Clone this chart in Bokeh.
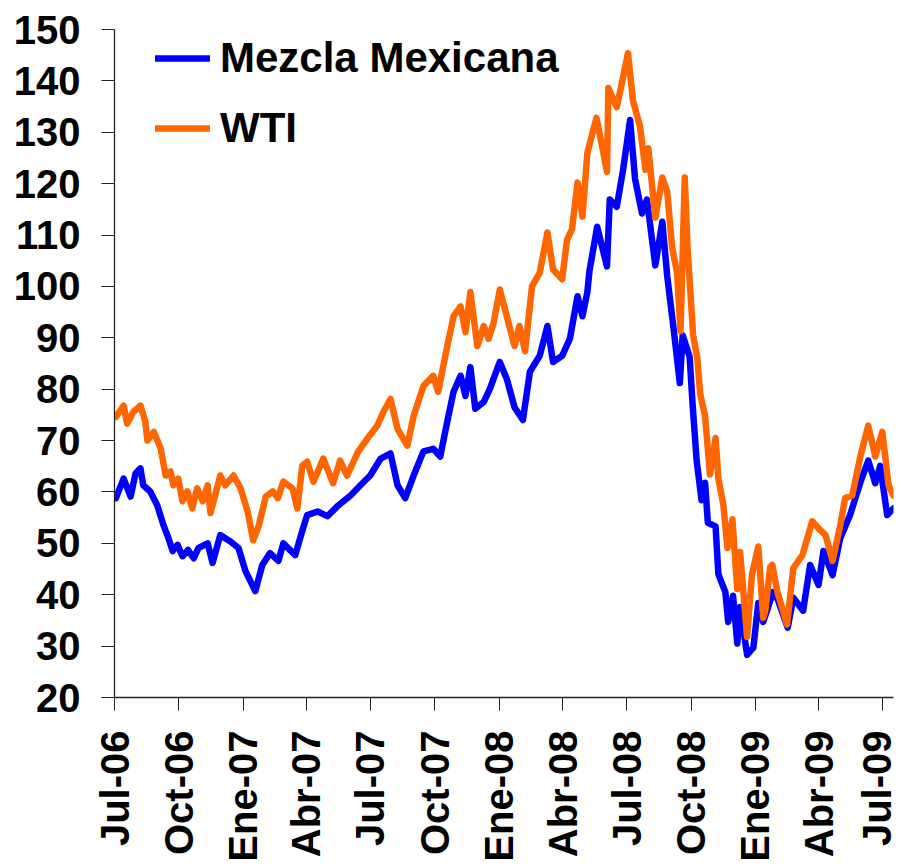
import pandas as pd
from math import pi
from datetime import datetime
from bokeh.plotting import figure
from bokeh.models import FixedTicker, Legend, LegendItem, Range1d
from bokeh.embed import file_html
from bokeh.resources import INLINE

# ---------------- data ----------------
wti_dates = ["2006-07-03", "2006-07-14", "2006-07-19", "2006-07-28", "2006-08-07", "2006-08-14", "2006-08-17",
             "2006-08-26", "2006-09-05", "2006-09-12", "2006-09-19", "2006-09-23", "2006-09-30", "2006-10-06",
             "2006-10-13", "2006-10-20", "2006-10-27", "2006-11-04", "2006-11-11", "2006-11-15", "2006-11-29",
             "2006-12-06", "2006-12-18", "2006-12-28", "2007-01-07", "2007-01-15", "2007-01-23", "2007-02-02",
             "2007-02-12", "2007-02-19", "2007-02-27", "2007-03-12", "2007-03-19", "2007-03-26", "2007-04-02",
             "2007-04-11", "2007-04-25", "2007-05-09", "2007-05-19", "2007-05-29", "2007-06-14", "2007-06-27",
             "2007-07-11", "2007-07-20", "2007-07-30", "2007-08-09", "2007-08-23", "2007-09-01", "2007-09-15",
             "2007-09-29", "2007-10-06", "2007-10-19", "2007-10-28", "2007-11-07", "2007-11-14", "2007-11-21",
             "2007-12-01", "2007-12-10", "2007-12-17", "2007-12-24", "2008-01-02", "2008-01-12", "2008-01-23",
             "2008-01-30", "2008-02-07", "2008-02-17", "2008-02-28", "2008-03-10", "2008-03-18", "2008-03-31",
             "2008-04-07", "2008-04-14", "2008-04-22", "2008-04-29", "2008-05-06", "2008-05-19", "2008-05-28",
             "2008-06-03", "2008-06-05", "2008-06-17", "2008-06-26", "2008-07-03", "2008-07-10", "2008-07-20",
             "2008-07-28", "2008-08-01", "2008-08-11", "2008-08-21", "2008-08-28", "2008-09-04", "2008-09-11",
             "2008-09-16", "2008-09-22", "2008-09-26", "2008-10-04", "2008-10-10", "2008-10-14", "2008-10-21",
             "2008-10-28", "2008-11-05", "2008-11-09", "2008-11-16", "2008-11-22", "2008-11-29", "2008-12-06",
             "2008-12-10", "2008-12-20", "2008-12-27", "2009-01-05", "2009-01-12", "2009-01-15", "2009-01-22",
             "2009-01-25", "2009-02-01", "2009-02-15", "2009-02-24", "2009-03-09", "2009-03-23", "2009-04-01",
             "2009-04-11", "2009-04-21", "2009-05-02", "2009-05-09", "2009-05-19", "2009-05-31", "2009-06-11",
             "2009-06-21", "2009-07-01", "2009-07-10", "2009-07-17"]
wti_values = [74.6, 76.8, 73.3, 75.6, 76.8, 73.7, 70.0,
              71.7, 68.4, 63.2, 64.0, 61.3, 62.6, 58.2,
              60.1, 56.8, 60.7, 58.2, 61.3, 55.9, 63.2,
              61.3, 63.2, 60.7, 56.2, 50.6, 53.5, 59.1,
              60.1, 58.8, 62.0, 60.7, 56.8, 65.1, 65.9,
              62.0, 66.5, 61.7, 66.1, 63.2, 67.9, 70.4,
              72.9, 75.6, 78.1, 72.3, 69.0, 74.8, 80.6,
              82.6, 79.5, 88.4, 94.2, 96.1, 91.1, 98.9,
              88.4, 92.3, 89.8, 92.8, 99.4, 94.2, 88.4,
              92.3, 87.4, 100.0, 102.7, 110.5, 103.3, 101.4,
              109.1, 111.1, 120.2, 113.6, 126.0, 132.8, 126.6,
              122.3, 138.6, 134.9, 140.7, 145.4, 136.2, 131.2,
              122.7, 126.9, 113.4, 121.2, 118.4, 107.6, 102.7,
              91.3, 121.2, 107.6, 90.5, 86.0, 79.1, 74.8,
              63.4, 70.5, 62.6, 57.6, 49.1, 54.7, 41.1,
              48.3, 31.8, 44.0, 49.4, 35.5, 36.9, 45.4,
              45.8, 40.7, 34.2, 45.2, 47.7, 54.3, 52.9,
              51.6, 46.6, 53.5, 58.8, 59.3, 67.1, 72.9,
              66.9, 71.7, 61.3, 59.3]

mm_dates = ["2006-07-03", "2006-07-14", "2006-07-24", "2006-07-31", "2006-08-07", "2006-08-11", "2006-08-21",
            "2006-08-31", "2006-09-09", "2006-09-16", "2006-09-22", "2006-09-29", "2006-10-06", "2006-10-14",
            "2006-10-22", "2006-10-29", "2006-11-11", "2006-11-18", "2006-11-29", "2006-12-13", "2006-12-25",
            "2007-01-04", "2007-01-18", "2007-01-28", "2007-02-08", "2007-02-20", "2007-02-27", "2007-03-16",
            "2007-03-26", "2007-04-02", "2007-04-17", "2007-05-01", "2007-05-15", "2007-06-03", "2007-06-17",
            "2007-07-01", "2007-07-16", "2007-07-30", "2007-08-09", "2007-08-20", "2007-09-01", "2007-09-15",
            "2007-09-29", "2007-10-09", "2007-10-19", "2007-10-28", "2007-11-07", "2007-11-14", "2007-11-21",
            "2007-11-28", "2007-12-10", "2007-12-19", "2008-01-02", "2008-01-12", "2008-01-23", "2008-02-04",
            "2008-02-14", "2008-02-28", "2008-03-10", "2008-03-18", "2008-03-31", "2008-04-11", "2008-04-22",
            "2008-04-29", "2008-05-06", "2008-05-09", "2008-05-20", "2008-06-03", "2008-06-07", "2008-06-17",
            "2008-06-26", "2008-07-06", "2008-07-13", "2008-07-23", "2008-07-30", "2008-08-11", "2008-08-21",
            "2008-08-28", "2008-09-06", "2008-09-15", "2008-09-19", "2008-09-29", "2008-10-03", "2008-10-09",
            "2008-10-16", "2008-10-21", "2008-10-25", "2008-11-05", "2008-11-09", "2008-11-19", "2008-11-23",
            "2008-11-30", "2008-12-06", "2008-12-10", "2008-12-20", "2008-12-29", "2009-01-05", "2009-01-12",
            "2009-01-26", "2009-02-02", "2009-02-16", "2009-02-24", "2009-03-10", "2009-03-20", "2009-04-01",
            "2009-04-08", "2009-04-21", "2009-05-02", "2009-05-16", "2009-05-31", "2009-06-11", "2009-06-21",
            "2009-06-28", "2009-07-08", "2009-07-17"]
mm_values = [58.8, 62.6, 59.1, 63.6, 64.6, 61.3, 60.1,
             57.4, 53.5, 51.0, 48.5, 49.7, 47.5, 48.7,
             47.1, 49.1, 50.0, 46.2, 51.6, 50.4, 49.1,
             44.6, 40.7, 45.8, 48.1, 46.6, 50.0, 47.7,
             52.4, 55.5, 56.2, 55.3, 57.2, 59.3, 61.3,
             63.2, 66.5, 67.5, 61.3, 58.8, 63.2, 67.9,
             68.4, 66.9, 73.7, 79.5, 82.6, 78.7, 84.3,
             76.2, 77.5, 80.1, 85.3, 82.0, 76.5, 74.0,
             83.4, 86.5, 92.3, 85.3, 86.5, 89.8, 98.1,
             94.2, 98.9, 103.0, 111.6, 103.9, 116.9, 115.5,
             122.7, 132.4, 121.0, 114.2, 116.9, 104.1, 112.6,
             102.0, 91.9, 81.2, 90.5, 86.3, 77.5, 66.1,
             58.4, 61.8, 54.0, 53.3, 44.0, 40.5, 34.7,
             39.8, 30.5, 37.6, 28.3, 29.7, 38.4, 34.7,
             40.5, 39.0, 33.6, 39.4, 36.9, 45.8, 41.9,
             48.5, 43.8, 51.0, 55.5, 62.0, 66.1, 61.7,
             65.1, 55.5, 56.8]

series_names = ["Mezcla Mexicana", "WTI"]
series_colors = ["#0000FF", "#FF6600"]

tick_dates = ["2006-07-01", "2006-10-01", "2007-01-01", "2007-04-01", "2007-07-01", "2007-10-01",
              "2008-01-01", "2008-04-01", "2008-07-01", "2008-10-01", "2009-01-01", "2009-04-01", "2009-07-01"]
tick_labels = ["Jul-06", "Oct-06", "Ene-07", "Abr-07", "Jul-07", "Oct-07",
               "Ene-08", "Abr-08", "Jul-08", "Oct-08", "Ene-09", "Abr-09", "Jul-09"]
y_ticks = [20, 30, 40, 50, 60, 70, 80, 90, 100, 110, 120, 130, 140, 150]

# ---------------- figure ----------------
FONT = "Liberation Sans"
W, H = 898, 864

p = figure(width=W, height=H, x_axis_type="datetime",
           output_backend="svg", toolbar_location=None,
           min_border_left=114, min_border_top=29, min_border_right=W - 893, min_border_bottom=H - 700)
p.x_range = Range1d(datetime(2006, 7, 1), datetime(2009, 7, 17))
p.y_range = Range1d(20, 150)

p.outline_line_color = None
p.xgrid.grid_line_color = None
p.ygrid.grid_line_color = None
p.background_fill_color = "white"
p.border_fill_color = "white"

mm_x = pd.to_datetime(mm_dates)
wti_x = pd.to_datetime(wti_dates)

r_mm = p.line(mm_x, mm_values, line_color=series_colors[0], line_width=6.5, line_join="round", line_cap="round")
r_wti = p.line(wti_x, wti_values, line_color=series_colors[1], line_width=6.5, line_join="round", line_cap="round")

# axes
tick_ms = [int(pd.Timestamp(d).value // 10**6) for d in tick_dates]
xa = p.xaxis[0]
xa.ticker = FixedTicker(ticks=tick_ms)
xa.major_label_overrides = {t: lab for t, lab in zip(tick_ms, tick_labels)}
xa.major_label_orientation = pi / 2
xa.minor_tick_line_color = None
xa.major_tick_in = 0
xa.major_tick_out = 13
xa.major_label_standoff = 20
xa.major_label_text_font = FONT
xa.major_label_text_font_style = "bold"
xa.major_label_text_font_size = "40px"
xa.major_label_text_color = "black"
xa.axis_line_color = "#222222"
xa.major_tick_line_color = "#222222"
xa.axis_line_width = 1.3

ya = p.yaxis[0]
ya.ticker = FixedTicker(ticks=y_ticks)
ya.minor_tick_line_color = None
ya.major_tick_in = 0
ya.major_tick_out = 13
ya.major_label_standoff = 21
ya.major_label_text_font = FONT
ya.major_label_text_font_style = "bold"
ya.major_label_text_font_size = "40px"
ya.major_label_text_color = "black"
ya.axis_line_color = "#222222"
ya.major_tick_line_color = "#222222"
ya.axis_line_width = 1.3

legend = Legend(items=[LegendItem(label=series_names[0], renderers=[r_mm]),
                       LegendItem(label=series_names[1], renderers=[r_wti])],
                location=(41, 543), glyph_width=55, glyph_height=52, label_height=52,
                spacing=18, padding=0, margin=0, label_standoff=10,
                border_line_color=None, background_fill_alpha=0,
                label_text_font=FONT, label_text_font_style="bold",
                label_text_font_size="42px", label_text_color="black")
p.add_layout(legend)

open("out.html", "w").write(file_html(p, INLINE))
